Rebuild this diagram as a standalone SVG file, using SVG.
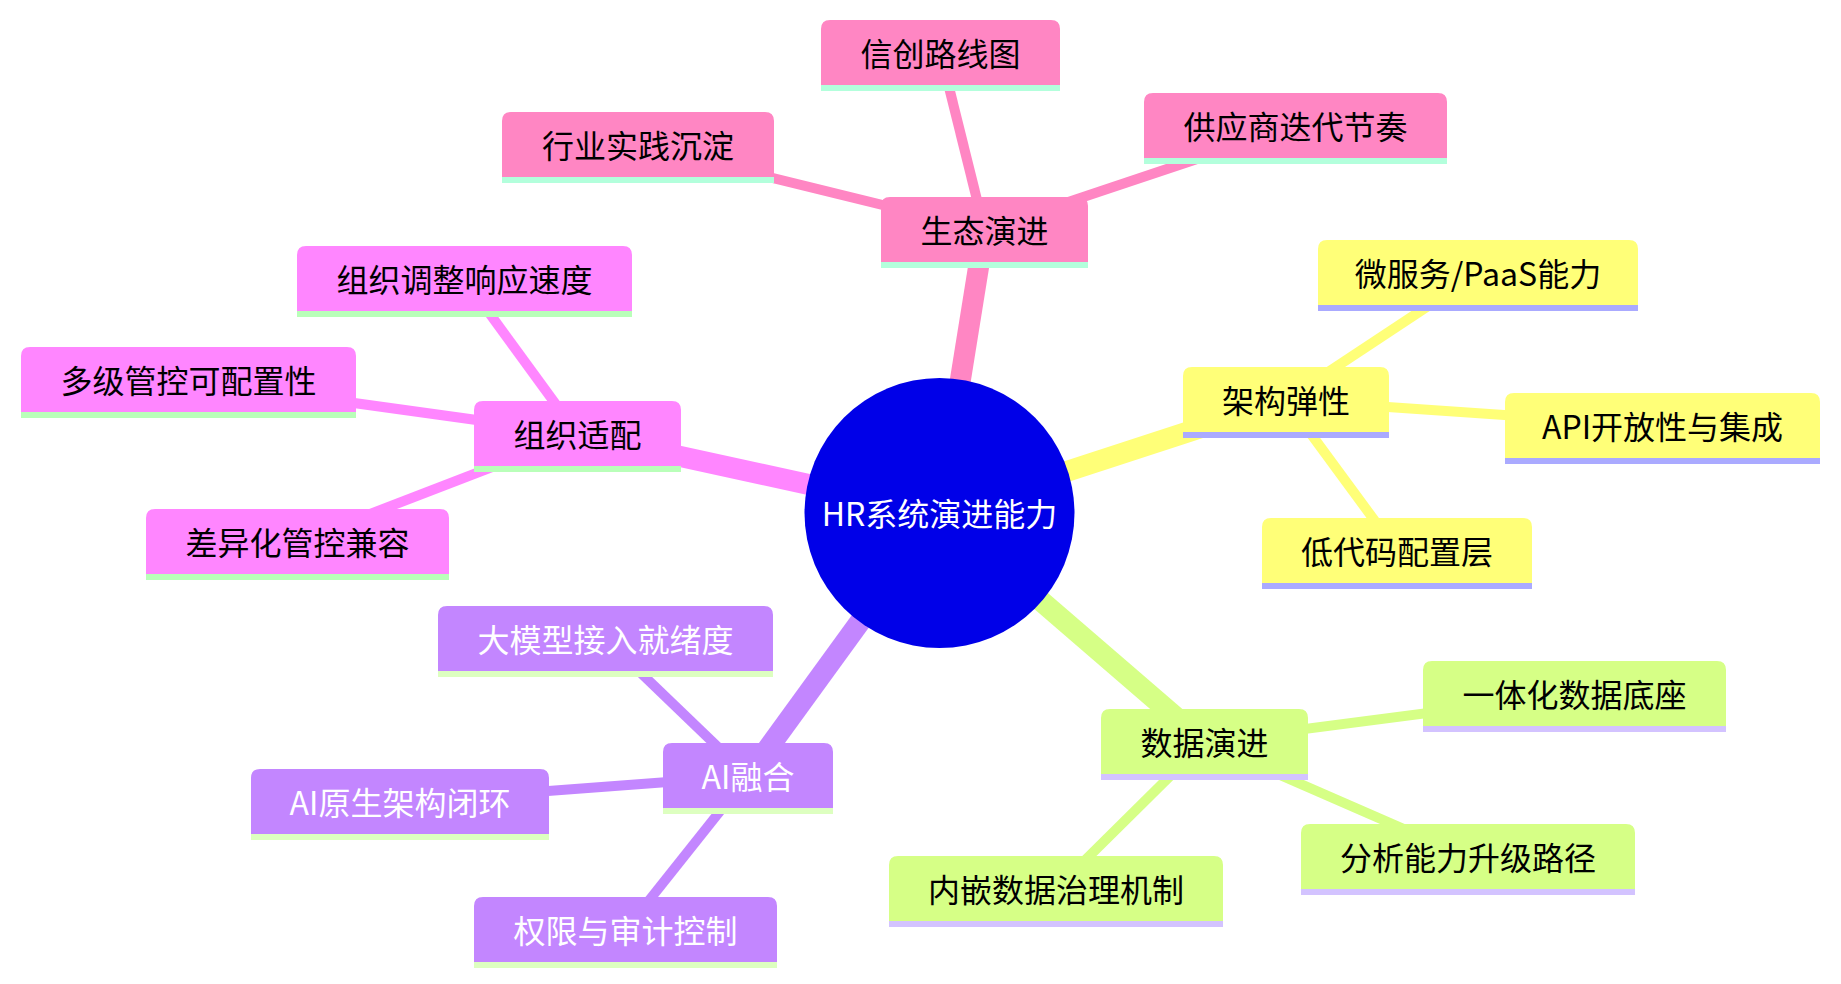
<svg xmlns="http://www.w3.org/2000/svg" width="1841" height="984" viewBox="0 0 1841 984">
<style>
text{font-family:"Noto Sans CJK SC","Noto Sans",sans-serif;font-size:32px;text-anchor:middle;dominant-baseline:central}
.trunk{stroke-width:21;fill:none}
.leaf{stroke-width:10;fill:none}
.s0 .box{fill:#ff86c3}.s0 .stripe{fill:#b3ffdc}.e0{stroke:#ff86c3}
.s1 .box{fill:#ff86ff}.s1 .stripe{fill:#b9ffb9}.e1{stroke:#ff86ff}
.s2 .box{fill:#ffff78}.s2 .stripe{fill:#aaaaff}.e2{stroke:#ffff78}
.s3 .box{fill:#d6ff86}.s3 .stripe{fill:#d3c3ff}.e3{stroke:#d6ff86}
.s4 .box{fill:#c386ff}.s4 .stripe{fill:#ddffc0}.e4{stroke:#c386ff}
.dark{fill:#000000}.light{fill:#ffffff}
</style>
<rect width="1841" height="984" fill="#ffffff"/>
<g id="connectors">
<line class="trunk e0" x1="939" y1="513" x2="984.5" y2="230"/>
<line class="trunk e1" x1="939" y1="513" x2="577.5" y2="434"/>
<line class="trunk e2" x1="939" y1="513" x2="1286" y2="400"/>
<line class="trunk e3" x1="939" y1="513" x2="1204.5" y2="742"/>
<line class="trunk e4" x1="939" y1="513" x2="748" y2="776"/>
<line class="leaf e0" x1="984.5" y1="230" x2="940.5" y2="53"/>
<line class="leaf e0" x1="984.5" y1="230" x2="638" y2="145"/>
<line class="leaf e0" x1="984.5" y1="230" x2="1295.5" y2="126"/>
<line class="leaf e1" x1="577.5" y1="434" x2="464.5" y2="279"/>
<line class="leaf e1" x1="577.5" y1="434" x2="188.5" y2="380"/>
<line class="leaf e1" x1="577.5" y1="434" x2="297.5" y2="542"/>
<line class="leaf e2" x1="1286" y1="400" x2="1478" y2="273"/>
<line class="leaf e2" x1="1286" y1="400" x2="1662.5" y2="426"/>
<line class="leaf e2" x1="1286" y1="400" x2="1397" y2="551"/>
<line class="leaf e3" x1="1204.5" y1="742" x2="1574.5" y2="694"/>
<line class="leaf e3" x1="1204.5" y1="742" x2="1056" y2="889"/>
<line class="leaf e3" x1="1204.5" y1="742" x2="1468" y2="857"/>
<line class="leaf e4" x1="748" y1="776" x2="605.5" y2="639"/>
<line class="leaf e4" x1="748" y1="776" x2="400" y2="802"/>
<line class="leaf e4" x1="748" y1="776" x2="625.5" y2="930"/>
</g>
<g id="root">
<circle cx="939.5" cy="513" r="135" fill="#0000e8"/>
<text class="light" x="939.5" y="512">HR系统演进能力</text>
</g>
<g id="n-shengtai" class="s0">
<path class="box" d="M881 262V206Q881 197 890 197H1079Q1088 197 1088 206V262Z"/>
<rect class="stripe" x="881" y="262" width="207" height="6"/>
<text class="dark" x="984.5" y="229">生态演进</text>
</g>
<g id="n-xinchuang" class="s0">
<path class="box" d="M821 85V29Q821 20 830 20H1051Q1060 20 1060 29V85Z"/>
<rect class="stripe" x="821" y="85" width="239" height="6"/>
<text class="dark" x="940.5" y="52">信创路线图</text>
</g>
<g id="n-hangye" class="s0">
<path class="box" d="M502 177V121Q502 112 511 112H765Q774 112 774 121V177Z"/>
<rect class="stripe" x="502" y="177" width="272" height="6"/>
<text class="dark" x="638" y="144">行业实践沉淀</text>
</g>
<g id="n-gongying" class="s0">
<path class="box" d="M1144 158V102Q1144 93 1153 93H1438Q1447 93 1447 102V158Z"/>
<rect class="stripe" x="1144" y="158" width="303" height="6"/>
<text class="dark" x="1295.5" y="125">供应商迭代节奏</text>
</g>
<g id="n-zuzhi" class="s1">
<path class="box" d="M474 466V410Q474 401 483 401H672Q681 401 681 410V466Z"/>
<rect class="stripe" x="474" y="466" width="207" height="6"/>
<text class="dark" x="577.5" y="433">组织适配</text>
</g>
<g id="n-tiaozheng" class="s1">
<path class="box" d="M297 311V255Q297 246 306 246H623Q632 246 632 255V311Z"/>
<rect class="stripe" x="297" y="311" width="335" height="6"/>
<text class="dark" x="464.5" y="278">组织调整响应速度</text>
</g>
<g id="n-duoji" class="s1">
<path class="box" d="M21 412V356Q21 347 30 347H347Q356 347 356 356V412Z"/>
<rect class="stripe" x="21" y="412" width="335" height="6"/>
<text class="dark" x="188.5" y="379">多级管控可配置性</text>
</g>
<g id="n-chayi" class="s1">
<path class="box" d="M146 574V518Q146 509 155 509H440Q449 509 449 518V574Z"/>
<rect class="stripe" x="146" y="574" width="303" height="6"/>
<text class="dark" x="297.5" y="541">差异化管控兼容</text>
</g>
<g id="n-jiagou" class="s2">
<path class="box" d="M1183 432V376Q1183 367 1192 367H1380Q1389 367 1389 376V432Z"/>
<rect class="stripe" x="1183" y="432" width="206" height="6"/>
<text class="dark" x="1286" y="399">架构弹性</text>
</g>
<g id="n-weifuwu" class="s2">
<path class="box" d="M1318 305V249Q1318 240 1327 240H1629Q1638 240 1638 249V305Z"/>
<rect class="stripe" x="1318" y="305" width="320" height="6"/>
<text class="dark" x="1478" y="272">微服务/PaaS能力</text>
</g>
<g id="n-api" class="s2">
<path class="box" d="M1505 458V402Q1505 393 1514 393H1811Q1820 393 1820 402V458Z"/>
<rect class="stripe" x="1505" y="458" width="315" height="6"/>
<text class="dark" x="1662.5" y="425">API开放性与集成</text>
</g>
<g id="n-didaima" class="s2">
<path class="box" d="M1262 583V527Q1262 518 1271 518H1523Q1532 518 1532 527V583Z"/>
<rect class="stripe" x="1262" y="583" width="270" height="6"/>
<text class="dark" x="1397" y="550">低代码配置层</text>
</g>
<g id="n-shuju" class="s3">
<path class="box" d="M1101 774V718Q1101 709 1110 709H1299Q1308 709 1308 718V774Z"/>
<rect class="stripe" x="1101" y="774" width="207" height="6"/>
<text class="dark" x="1204.5" y="741">数据演进</text>
</g>
<g id="n-yitihua" class="s3">
<path class="box" d="M1423 726V670Q1423 661 1432 661H1717Q1726 661 1726 670V726Z"/>
<rect class="stripe" x="1423" y="726" width="303" height="6"/>
<text class="dark" x="1574.5" y="693">一体化数据底座</text>
</g>
<g id="n-neiqian" class="s3">
<path class="box" d="M889 921V865Q889 856 898 856H1214Q1223 856 1223 865V921Z"/>
<rect class="stripe" x="889" y="921" width="334" height="6"/>
<text class="dark" x="1056" y="888">内嵌数据治理机制</text>
</g>
<g id="n-fenxi" class="s3">
<path class="box" d="M1301 889V833Q1301 824 1310 824H1626Q1635 824 1635 833V889Z"/>
<rect class="stripe" x="1301" y="889" width="334" height="6"/>
<text class="dark" x="1468" y="856">分析能力升级路径</text>
</g>
<g id="n-ai" class="s4">
<path class="box" d="M663 808V752Q663 743 672 743H824Q833 743 833 752V808Z"/>
<rect class="stripe" x="663" y="808" width="170" height="6"/>
<text class="light" x="748" y="775">AI融合</text>
</g>
<g id="n-damoxing" class="s4">
<path class="box" d="M438 671V615Q438 606 447 606H764Q773 606 773 615V671Z"/>
<rect class="stripe" x="438" y="671" width="335" height="6"/>
<text class="light" x="605.5" y="638">大模型接入就绪度</text>
</g>
<g id="n-aiyuansheng" class="s4">
<path class="box" d="M251 834V778Q251 769 260 769H540Q549 769 549 778V834Z"/>
<rect class="stripe" x="251" y="834" width="298" height="6"/>
<text class="light" x="400" y="801">AI原生架构闭环</text>
</g>
<g id="n-quanxian" class="s4">
<path class="box" d="M474 962V906Q474 897 483 897H768Q777 897 777 906V962Z"/>
<rect class="stripe" x="474" y="962" width="303" height="6"/>
<text class="light" x="625.5" y="929">权限与审计控制</text>
</g>
</svg>
